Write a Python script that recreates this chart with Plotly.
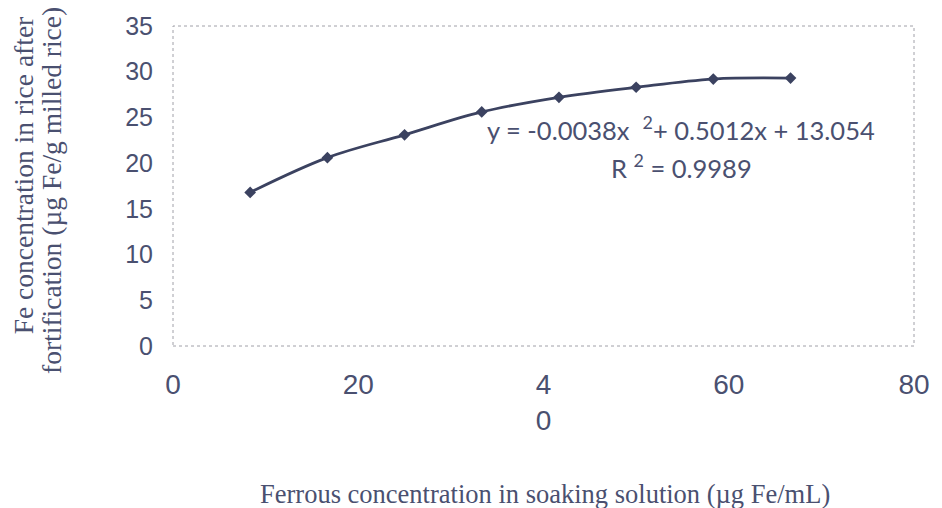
import plotly.graph_objects as go

# Data
x_vals = [8.33, 16.67, 25.0, 33.33, 41.67, 50.0, 58.33, 66.67]
y_vals = [16.8, 20.6, 23.1, 25.6, 27.2, 28.3, 29.2, 29.3]

x_tickvals = [0, 20, 40, 60, 80]
x_ticktext = ["0", "20", "4<br>0", "60", "80"]
y_tickvals = [0, 5, 10, 15, 20, 25, 30, 35]

eq_text = "y = -0.0038x  <sup>2</sup>+ 0.5012x + 13.054"
r2_text = "R <sup>2</sup> = 0.9989"
x_title = "Ferrous concentration in soaking solution (µg Fe/mL)"
y_title_1 = "Fe concentration in rice after"
y_title_2 = "fortification (µg Fe/g milled rice)"

TXT = "#4a5070"
LINE = "#3b4260"

fig = go.Figure()
fig.add_trace(go.Scatter(
    x=x_vals, y=y_vals, mode="lines+markers",
    line=dict(color=LINE, width=2.8, shape="spline"),
    marker=dict(symbol="diamond", size=9, color=LINE),
    showlegend=False,
))

W, H = 942, 508
L, R, T, B = 173, 19, 25, 162
pw = W - L - R
ph = H - T - B

def px_x(p):
    return (p - L) / pw

def px_y(p):
    return (H - B - p) / ph

serif = "Liberation Serif, Times New Roman"

fig.update_layout(
    width=W, height=H,
    margin=dict(l=L, r=R, t=T, b=B),
    paper_bgcolor="white", plot_bgcolor="white",
    xaxis=dict(
        range=[0, 80], tickvals=x_tickvals, ticktext=x_ticktext,
        showgrid=False, zeroline=False, showline=False, ticks="",
        tickfont=dict(family="Liberation Sans, Arial", size=28, color=TXT),
        ticklabelstandoff=19,
    ),
    yaxis=dict(
        range=[0, 35], tickvals=y_tickvals,
        showgrid=False, zeroline=False, showline=False, ticks="",
        tickfont=dict(family="Liberation Sans, Arial", size=25, color=TXT),
        ticklabelstandoff=19,
    ),
    shapes=[dict(type="rect", xref="paper", yref="paper", x0=0, x1=1, y0=0, y1=1,
                 line=dict(color="#a0a0a8", width=1, dash="dot"))],
    annotations=[
        dict(text=eq_text, xref="paper", yref="paper", x=px_x(687), y=px_y(127),
             xanchor="center", yanchor="middle", showarrow=False,
             font=dict(family="Lato", size=25.5, color=TXT)),
        dict(text=r2_text, xref="paper", yref="paper", x=px_x(688), y=px_y(165),
             xanchor="center", yanchor="middle", showarrow=False,
             font=dict(family="Lato", size=25.5, color=TXT)),
        dict(text=x_title, xref="paper", yref="paper", x=px_x(550), y=px_y(494),
             xanchor="center", yanchor="middle", showarrow=False,
             font=dict(family=serif, size=26.5, color=TXT)),
        dict(text=y_title_1, xref="paper", yref="paper", x=px_x(22), y=px_y(175),
             xanchor="center", yanchor="middle", showarrow=False, textangle=-90,
             font=dict(family=serif, size=27.5, color=TXT)),
        dict(text=y_title_2, xref="paper", yref="paper", x=px_x(50), y=px_y(190),
             xanchor="center", yanchor="middle", showarrow=False, textangle=-90,
             font=dict(family=serif, size=27.5, color=TXT)),
    ],
)

fig.write_html("out.html")
